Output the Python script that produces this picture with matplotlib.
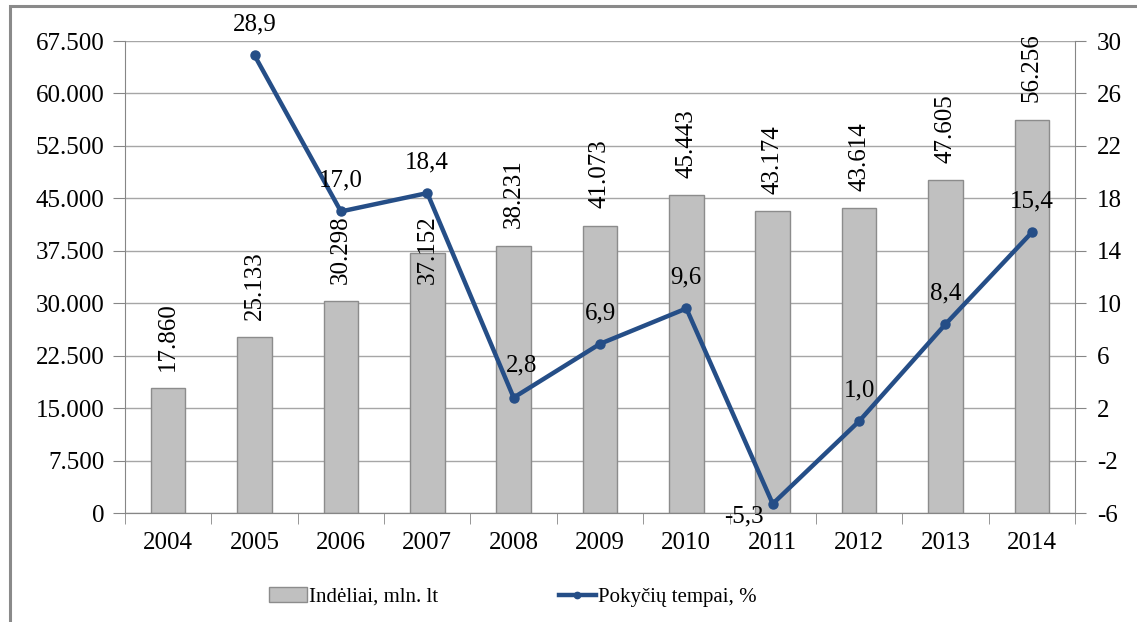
import matplotlib
matplotlib.use("Agg")
import matplotlib.pyplot as plt
from matplotlib.patches import Rectangle
from matplotlib.ticker import FixedLocator, FuncFormatter

plt.rcParams['font.family'] = ['Liberation Serif', 'DejaVu Serif']
plt.rcParams['axes.unicode_minus'] = False

years = ['2004', '2005', '2006', '2007', '2008', '2009', '2010', '2011', '2012', '2013', '2014']
deposits = [17860, 25133, 30298, 37152, 38231, 41073, 45443, 43174, 43614, 47605, 56256]
growth = [None, 28.9, 17.0, 18.4, 2.8, 6.9, 9.6, -5.3, 1.0, 8.4, 15.4]
bar_label = 'Indėliai, mln. lt'
line_label = 'Pokyčių tempai, %'

GRID = '#a6a6a6'
SPINE = '#868686'
BAR = '#c0c0c0'
BAR_EDGE = '#8c8c8c'
LINE = '#254e87'
FS = 18

fig = plt.figure(figsize=(11.37, 6.22), dpi=100)
ax = fig.add_axes([125 / 1137, 109 / 622, 950 / 1137, 472 / 622])
ax2 = ax.twinx()

# outer frame (cut at right and bottom as in the source)
fig.patches.append(Rectangle((10 / 1137, -0.1), 1.2, (616 / 622) + 0.1, transform=fig.transFigure,
                             fill=False, edgecolor='#8a8a8a', linewidth=2.2, zorder=0))

x = list(range(len(years)))
ax.bar(x, deposits, width=0.4, color=BAR, edgecolor=BAR_EDGE, linewidth=1.0, zorder=2, label=bar_label)
ax.set_xlim(-0.5, len(years) - 0.5)
ax.set_ylim(0, 67500)
ax.yaxis.set_major_locator(FixedLocator([i * 7500 for i in range(10)]))
ax.yaxis.set_major_formatter(FuncFormatter(lambda v, p: f"{int(v):,}".replace(',', '.')))
ax.grid(axis='y', color=GRID, linewidth=1.0, zorder=0)
ax.set_axisbelow(True)

ax.set_xticks(x)
ax.set_xticklabels(years)
ax.set_xticks([i - 0.5 for i in range(len(years) + 1)], minor=True)
ax.tick_params(axis='x', which='major', length=0, pad=14, labelsize=FS)
ax.tick_params(axis='x', which='minor', length=8, color=SPINE, direction='out')
ax.tick_params(axis='y', length=9, color=SPINE, pad=6, labelsize=FS)

# the 2007 label sits lower, partly over its bar, as in the source
bar_offsets = {3: -22}
for i, v in enumerate(deposits):
    ax.annotate(f"{v:,}".replace(',', '.'), (i, v), xytext=(0, bar_offsets.get(i, 12.5)),
                textcoords='offset points', rotation=90, ha='center', va='bottom',
                fontsize=FS, zorder=5)

xs = [i for i, g in enumerate(growth) if g is not None]
ys = [g for g in growth if g is not None]
ax2.plot(xs, ys, color=LINE, linewidth=3.2, marker='o', markersize=6.5, zorder=4, label=line_label)
ax2.set_ylim(-6, 30)
ax2.yaxis.set_major_locator(FixedLocator(list(range(-6, 31, 4))))
ax2.tick_params(axis='y', length=8, color=SPINE, pad=8, labelsize=FS)

offsets = {4: (6, 23), 7: (-21, -9)}
for xi, yi in zip(xs, ys):
    dx, dy = offsets.get(xi, (0, 22))
    ax2.annotate(f"{yi:.1f}".replace('.', ','), (xi, yi), xytext=(dx, dy), textcoords='offset points',
                 ha='center', va='center', fontsize=FS, zorder=6)

for a in (ax, ax2):
    for s in a.spines.values():
        s.set_color(SPINE)
    a.spines['top'].set_visible(False)
ax2.spines['left'].set_visible(False)
ax.spines['right'].set_visible(False)

h1, l1 = ax.get_legend_handles_labels()
h2, l2 = ax2.get_legend_handles_labels()
fig.legend(h1 + h2, l1 + l2, loc='center', bbox_to_anchor=(513 / 1137, 25 / 622), ncol=2,
           frameon=False, prop={'family': ['Liberation Serif', 'DejaVu Serif'], 'size': 15},
           handlelength=1.8, handletextpad=0.1, columnspacing=5.8, markerscale=0.7)

fig.savefig('out.png', dpi=100)
